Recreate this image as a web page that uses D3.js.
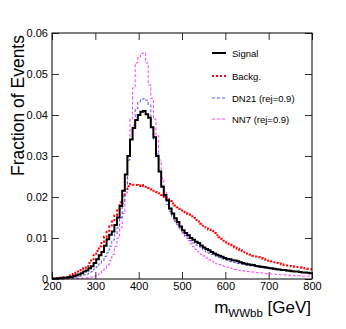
<!DOCTYPE html>
<html>
<head>
<meta charset="utf-8">
<script src="https://cdn.jsdelivr.net/npm/d3@7"></script>
<style>
  body { margin: 0; background: #fff; }
  text { font-family: "Liberation Sans", Arial, sans-serif; }
</style>
</head>
<body>
<svg width="346" height="329"></svg>
<script>
// histogram: 100 bins of 6 GeV from 200 to 800
var binLow = 200, binWidth = 6, binHigh = 800;

var signal = [
  0.0001,0.0001,0.0002,0.0002,0.0003,0.0003,0.0004,0.0005,0.0007,0.0009,
  0.0011,0.0014,0.0018,0.0021,0.0026,0.0031,0.0039,0.0048,0.0058,0.0066,
  0.0081,0.0097,0.0108,0.0116,0.0132,0.0150,0.0178,0.0215,0.0255,0.0300,
  0.0340,0.0368,0.0388,0.0400,0.0408,0.0410,0.0402,0.0393,0.0370,0.0346,
  0.0300,0.0262,0.0225,0.0205,0.0192,0.0172,0.0160,0.0148,0.0139,0.0128,
  0.0119,0.0112,0.0107,0.0100,0.0096,0.0091,0.0088,0.0082,0.0077,0.0073,
  0.0070,0.0066,0.0062,0.0059,0.0057,0.0054,0.0051,0.0049,0.0048,0.0046,
  0.0045,0.0043,0.0041,0.0039,0.0037,0.0036,0.0035,0.0034,0.0032,0.0031,
  0.0030,0.0029,0.0028,0.0027,0.0026,0.0025,0.0024,0.0023,0.0022,0.0022,
  0.0021,0.0020,0.0019,0.0018,0.0018,0.0017,0.0016,0.0016,0.0015,0.0014
];

var backg = [
  0.0001,0.0002,0.0002,0.0003,0.0004,0.0005,0.0007,0.0009,0.0012,0.0015,
  0.0018,0.0022,0.0027,0.0032,0.0039,0.0048,0.0058,0.0068,0.0080,0.0091,
  0.0103,0.0115,0.0128,0.0140,0.0155,0.0170,0.0187,0.0202,0.0216,0.0226,
  0.0232,0.0230,0.0229,0.0227,0.0229,0.0227,0.0225,0.0222,0.0219,0.0215,
  0.0212,0.0209,0.0205,0.0200,0.0195,0.0190,0.0184,0.0179,0.0175,0.0171,
  0.0167,0.0163,0.0158,0.0153,0.0149,0.0144,0.0140,0.0135,0.0130,0.0126,
  0.0121,0.0117,0.0112,0.0107,0.0102,0.0098,0.0093,0.0089,0.0085,0.0080,
  0.0077,0.0074,0.0071,0.0068,0.0065,0.0062,0.0060,0.0057,0.0055,0.0053,
  0.0051,0.0049,0.0047,0.0045,0.0043,0.0041,0.0039,0.0038,0.0036,0.0034,
  0.0033,0.0032,0.0031,0.0030,0.0029,0.0028,0.0027,0.0026,0.0025,0.0024
];

var dn21 = [
  0.0000,0.0001,0.0001,0.0001,0.0001,0.0002,0.0002,0.0003,0.0004,0.0005,
  0.0006,0.0008,0.0010,0.0012,0.0015,0.0018,0.0024,0.0030,0.0037,0.0045,
  0.0055,0.0064,0.0080,0.0095,0.0110,0.0125,0.0150,0.0185,0.0230,0.0290,
  0.0340,0.0375,0.0415,0.0432,0.0438,0.0440,0.0436,0.0425,0.0370,0.0340,
  0.0305,0.0262,0.0228,0.0200,0.0182,0.0165,0.0152,0.0141,0.0132,0.0122,
  0.0113,0.0106,0.0099,0.0093,0.0088,0.0083,0.0080,0.0075,0.0070,0.0066,
  0.0063,0.0060,0.0057,0.0054,0.0052,0.0049,0.0047,0.0045,0.0043,0.0041,
  0.0040,0.0038,0.0037,0.0035,0.0034,0.0033,0.0032,0.0031,0.0030,0.0029,
  0.0028,0.0027,0.0026,0.0025,0.0024,0.0024,0.0023,0.0022,0.0021,0.0021,
  0.0020,0.0019,0.0019,0.0018,0.0017,0.0017,0.0016,0.0015,0.0015,0.0014
];

var nn7 = [
  0.0000,0.0000,0.0000,0.0000,0.0000,0.0001,0.0001,0.0001,0.0001,0.0001,
  0.0002,0.0002,0.0003,0.0003,0.0004,0.0005,0.0007,0.0010,0.0014,0.0019,
  0.0026,0.0034,0.0045,0.0060,0.0080,0.0100,0.0125,0.0160,0.0210,0.0300,
  0.0390,0.0466,0.0527,0.0540,0.0550,0.0552,0.0527,0.0473,0.0440,0.0390,
  0.0350,0.0290,0.0246,0.0215,0.0190,0.0170,0.0155,0.0142,0.0132,0.0122,
  0.0112,0.0103,0.0094,0.0086,0.0079,0.0072,0.0066,0.0060,0.0056,0.0051,
  0.0047,0.0044,0.0040,0.0037,0.0035,0.0033,0.0031,0.0029,0.0027,0.0025,
  0.0023,0.0022,0.0021,0.0020,0.0019,0.0018,0.0017,0.0017,0.0016,0.0015,
  0.0015,0.0014,0.0013,0.0013,0.0012,0.0012,0.0011,0.0011,0.0010,0.0010,
  0.0009,0.0009,0.0009,0.0008,0.0008,0.0008,0.0007,0.0007,0.0007,0.0007
];

var legendLabels = ["Signal", "Backg.", "DN21 (rej=0.9)", "NN7 (rej=0.9)"];
var xTicks = [200, 300, 400, 500, 600, 700, 800];
var yTicks = [0, 0.01, 0.02, 0.03, 0.04, 0.05, 0.06];

var svg = d3.select("svg"),
    padLeft = 52, padRight = 312, padTop = 33, padBottom = 279;

var x = d3.scaleLinear().domain([binLow, binHigh]).range([padLeft, padRight]);
var y = d3.scaleLinear().domain([0, 0.06]).range([padBottom, padTop]);

var series = [
  {name: "nn7", values: nn7, color: "#ff3cff", width: 1, dash: "3,2"},
  {name: "dn21", values: dn21, color: "#5050ff", width: 1, dash: "3,2"},
  {name: "backg", values: backg, color: "#ff0000", width: 2, dash: "2,2"},
  {name: "signal", values: signal, color: "#000000", width: 2, dash: null}
];

function stepPoints(values) {
  var pts = values.map(function(v, i) { return [binLow + i * binWidth, v]; });
  pts.push([binHigh, values[values.length - 1]]);
  return pts;
}

var line = d3.line()
    .x(function(d) { return x(d[0]); })
    .y(function(d) { return y(d[1]); })
    .curve(d3.curveStepAfter);

svg.append("g").selectAll("path")
    .data(series)
  .enter().append("path")
    .attr("d", function(d) { return line(stepPoints(d.values)); })
    .attr("fill", "none")
    .attr("stroke", function(d) { return d.color; })
    .attr("stroke-width", function(d) { return d.width; })
    .attr("stroke-dasharray", function(d) { return d.dash; });

// axes with inward ticks, like ROOT
var xAxis = svg.append("g").attr("transform", "translate(0," + padBottom + ")")
    .call(d3.axisBottom(x).tickValues(xTicks).tickSizeInner(-7).tickSizeOuter(0).tickPadding(3));
xAxis.selectAll("text").attr("font-size", "11px").attr("fill", "#000");
xAxis.select(".domain").remove();

var xTop = svg.append("g").attr("transform", "translate(0," + padTop + ")")
    .call(d3.axisTop(x).tickValues(xTicks).tickSizeInner(-7).tickSizeOuter(0).tickFormat(""));
xTop.select(".domain").remove();

var yAxis = svg.append("g").attr("transform", "translate(" + padLeft + ",0)")
    .call(d3.axisLeft(y).tickValues(yTicks).tickSizeInner(-7).tickSizeOuter(0).tickPadding(4)
      .tickFormat(function(d) { return d === 0 ? "0" : d3.format(".2f")(d); }));
yAxis.selectAll("text").attr("font-size", "11px").attr("fill", "#000");
yAxis.select(".domain").remove();

var yRight = svg.append("g").attr("transform", "translate(" + padRight + ",0)")
    .call(d3.axisRight(y).tickValues(yTicks).tickSizeInner(-7).tickSizeOuter(0).tickFormat(""));
yRight.select(".domain").remove();

svg.selectAll(".tick line").attr("stroke", "#333");

svg.append("rect")
    .attr("x", padLeft).attr("y", padTop)
    .attr("width", padRight - padLeft).attr("height", padBottom - padTop)
    .attr("fill", "none").attr("stroke", "#000").attr("stroke-width", 1);

// legend
var legend = svg.append("g").selectAll("g")
    .data([series[3], series[2], series[1], series[0]])
  .enter().append("g")
    .attr("transform", function(d, i) { return "translate(212," + [53, 76, 98, 119][i] + ")"; });

legend.append("line")
    .attr("x1", 0).attr("x2", 14)
    .attr("stroke", function(d) { return d.color; })
    .attr("stroke-width", function(d) { return d.width; })
    .attr("stroke-dasharray", function(d) { return d.dash; });

legend.append("text")
    .attr("x", 20).attr("y", 3.5)
    .attr("font-size", "9.5px")
    .text(function(d, i) { return legendLabels[i]; });

// titles
svg.append("text")
    .attr("transform", "translate(24,35) rotate(-90)")
    .attr("text-anchor", "end")
    .attr("font-size", "17.5px")
    .text("Fraction of Events");

var xt = svg.append("text")
    .attr("x", 311).attr("y", 313)
    .attr("text-anchor", "end")
    .attr("font-size", "17px");
xt.append("tspan").text("m");
xt.append("tspan").attr("font-size", "11.5px").attr("dy", 4).text("WWbb");
xt.append("tspan").attr("dy", -4).text(" [GeV]");
</script>
</body>
</html>
